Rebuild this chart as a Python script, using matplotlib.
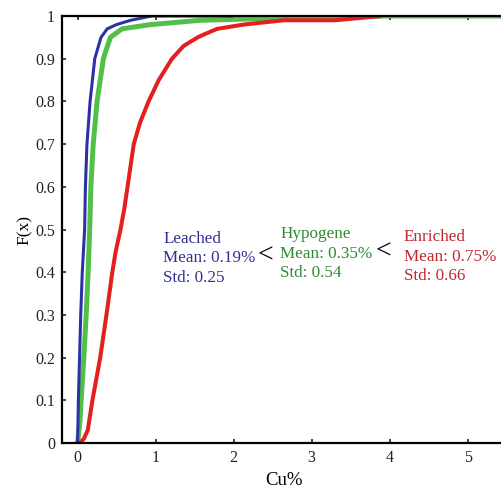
import matplotlib

matplotlib.use("Agg")
import matplotlib.pyplot as plt

# empirical CDF of Cu grade per zone (Cu%, cumulative fraction)
leached_cu = [0, 0.01, 0.025, 0.04, 0.06, 0.09, 0.10, 0.12, 0.16, 0.22, 0.30, 0.38, 0.50, 0.68, 0.95, 2.0]
leached_f = [0, 0.1, 0.2, 0.3, 0.4, 0.5, 0.6, 0.7, 0.8, 0.9, 0.95, 0.97, 0.98, 0.99, 1.0, 1.0]

hypogene_cu = [0, 0.03, 0.045, 0.08, 0.11, 0.135, 0.155, 0.17, 0.20, 0.25, 0.33, 0.42, 0.57, 0.94, 1.58, 2.6, 3.9, 5.6]
hypogene_f = [0, 0.05, 0.1, 0.2, 0.3, 0.4, 0.5, 0.6, 0.7, 0.8, 0.9, 0.95, 0.97, 0.98, 0.99, 0.995, 1.0, 1.0]

enriched_cu = [0.03, 0.08, 0.13, 0.19, 0.29, 0.37, 0.445, 0.49, 0.55, 0.60, 0.64, 0.72, 0.80, 0.91,
               1.04, 1.21, 1.36, 1.54, 1.66, 1.79, 2.13, 2.64, 3.3, 3.9]
enriched_f = [0, 0.01, 0.03, 0.1, 0.2, 0.3, 0.4, 0.45, 0.5, 0.55, 0.6, 0.7, 0.75, 0.8,
              0.85, 0.9, 0.93, 0.95, 0.96, 0.97, 0.98, 0.99, 0.99, 1.0]

zones = ["Leached", "Hypogene", "Enriched"]
means = [0.19, 0.35, 0.75]
stds = [0.25, 0.54, 0.66]

plt.rcParams["font.family"] = ["Liberation Serif", "DejaVu Serif"]

fig = plt.figure(figsize=(5.02, 4.94), dpi=100)
ax = fig.add_axes([0.1235, 0.1032, 0.8857, 0.8644])

ax.plot(hypogene_cu, hypogene_f, color="#52bf48", lw=3.6, solid_capstyle="butt")
ax.plot(leached_cu, leached_f, color="#2a32a8", lw=2.2, solid_capstyle="butt")
ax.plot(enriched_cu, enriched_f, color="#e3201f", lw=2.9, solid_capstyle="butt")

ax.set_xlim(-0.2, 5.5)
ax.set_ylim(0, 1)
ax.set_xticks(range(6))
ax.set_yticks([i / 10 for i in range(11)])
ax.set_yticklabels(["0"] + [f"{i / 10:g}" for i in range(1, 10)] + ["1"])
ax.tick_params(direction="in", length=3, width=1.2, labelsize=11.5, pad=5,
               top=True, right=False, colors="#222222")
for side in ("left", "bottom", "top"):
    ax.spines[side].set_linewidth(1.6)
ax.spines["right"].set_visible(False)

ax.set_xlabel("Cu%", fontsize=13.5, labelpad=4)
ax.set_ylabel("F(x)", fontsize=12.5, labelpad=2)

text_colors = ["#2e3192", "#2e8b2e", "#c1272d"]
text_x = [1.1, 2.60, 4.18]
text_y = [0.433, 0.443, 0.436]
for name, m, s, c, tx, ty in zip(zones, means, stds, text_colors, text_x, text_y):
    ax.text(tx, ty, f"{name}\nMean: {m:.2f}%\nStd: {s:.2f}", color=c, fontsize=12.3,
            linespacing=1.3, va="center", ha="left")

ax.text(2.41, 0.438, "<", fontsize=20, ha="center", va="center", color="black")
ax.text(3.92, 0.447, "<", fontsize=20, ha="center", va="center", color="black")

fig.savefig("out.png", dpi=100)
